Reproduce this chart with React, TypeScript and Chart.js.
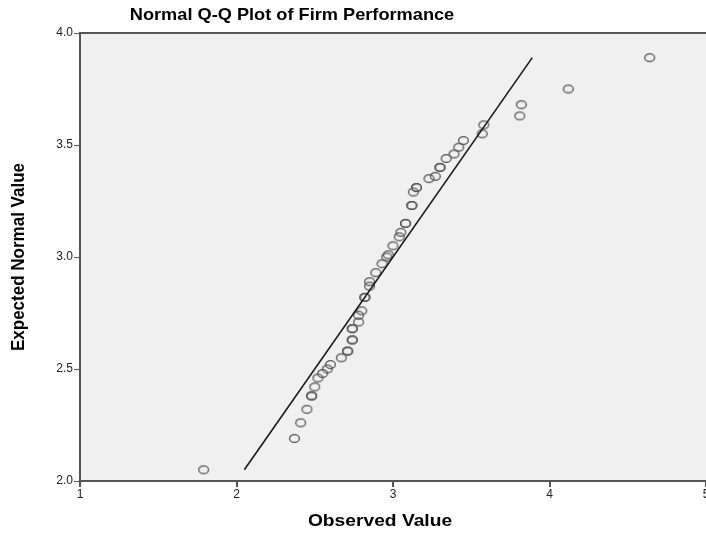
import React, { useEffect, useRef } from "react";
import { Chart, registerables } from "chart.js";

Chart.register(...registerables);

const chartTitle = "Normal Q-Q Plot of Firm Performance";
const xAxisTitle = "Observed Value";
const yAxisTitle = "Expected Normal Value";

const observedValues = [
  1.79, 2.37, 2.41, 2.45, 2.48, 2.48, 2.5, 2.52, 2.55, 2.58, 2.6, 2.67, 2.71, 2.71,
  2.74, 2.74, 2.74, 2.74, 2.78, 2.78, 2.8, 2.82, 2.82, 2.85, 2.85, 2.89, 2.93, 2.96,
  2.97, 3.0, 3.04, 3.05, 3.08, 3.08, 3.12, 3.12, 3.13, 3.15, 3.15, 3.23, 3.27, 3.3,
  3.3, 3.34, 3.39, 3.42, 3.45, 3.57, 3.58, 3.81, 3.82, 4.12, 4.64,
];
const expectedValues = [
  2.05, 2.19, 2.26, 2.32, 2.38, 2.38, 2.42, 2.46, 2.48, 2.5, 2.52, 2.55, 2.58, 2.58,
  2.63, 2.63, 2.68, 2.68, 2.71, 2.74, 2.76, 2.82, 2.82, 2.87, 2.89, 2.93, 2.97, 3.0,
  3.01, 3.05, 3.09, 3.11, 3.15, 3.15, 3.23, 3.23, 3.29, 3.31, 3.31, 3.35, 3.36, 3.4,
  3.4, 3.44, 3.46, 3.49, 3.52, 3.55, 3.59, 3.63, 3.68, 3.75, 3.89,
];
const referenceLine = [2.05, 3.89];
const xTicks = [1, 2, 3, 4, 5];
const yTicks = [2.0, 2.5, 3.0, 3.5, 4.0];

const FONT = "'Liberation Sans', Arial, sans-serif";

function makeMarker(): HTMLCanvasElement {
  const c = document.createElement("canvas");
  c.width = 13;
  c.height = 11;
  const g = c.getContext("2d")!;
  g.strokeStyle = "#555555";
  g.lineWidth = 1.3;
  g.beginPath();
  g.ellipse(6.5, 5.5, 4.9, 3.9, 0, 0, Math.PI * 2);
  g.stroke();
  return c;
}

function stretchedText(ctx: CanvasRenderingContext2D, text: string, x: number, y: number, sx: number) {
  ctx.save();
  ctx.translate(x, y);
  ctx.scale(sx, 1);
  ctx.fillText(text, 0, 0);
  ctx.restore();
}

export default function App() {
  const ref = useRef<HTMLCanvasElement | null>(null);

  useEffect(() => {
    if (!ref.current) return;
    const marker = makeMarker();
    const decor = {
      id: "decor",
      beforeDraw(chart: any) {
        const { ctx, chartArea } = chart;
        ctx.save();
        ctx.fillStyle = "#ffffff";
        ctx.fillRect(0, 0, chart.width, chart.height);
        ctx.fillStyle = "#f0f0f0";
        ctx.fillRect(chartArea.left, chartArea.top, chartArea.right - chartArea.left, chartArea.bottom - chartArea.top);
        ctx.restore();
      },
      afterDraw(chart: any) {
        const { ctx, chartArea } = chart;
        ctx.save();
        ctx.strokeStyle = "#555555";
        ctx.lineWidth = 2;
        ctx.beginPath();
        ctx.moveTo(chartArea.left, chartArea.top);
        ctx.lineTo(chartArea.right, chartArea.top);
        ctx.stroke();
        ctx.fillStyle = "#000000";
        ctx.textAlign = "center";
        ctx.textBaseline = "middle";
        ctx.font = `bold 17px ${FONT}`;
        stretchedText(ctx, chartTitle, 292, 15, 1.07);
        ctx.font = `bold 17px ${FONT}`;
        stretchedText(ctx, xAxisTitle, 380, 521, 1.13);
        ctx.save();
        ctx.translate(19, (chartArea.top + chartArea.bottom) / 2);
        ctx.rotate(-Math.PI / 2);
        ctx.scale(1, 1.1);
        ctx.font = `bold 17px ${FONT}`;
        ctx.fillText(yAxisTitle, 0, 0);
        ctx.restore();
        ctx.restore();
      },
    };

    const chart = new Chart(ref.current, {
      type: "scatter",
      data: {
        datasets: [
          {
            type: "line",
            data: referenceLine.map((v) => ({ x: v, y: v })),
            borderColor: "#1a1a1a",
            borderWidth: 1.6,
            pointRadius: 0,
            fill: false,
          },
          {
            data: observedValues.map((x, i) => ({ x, y: expectedValues[i] })),
            pointStyle: marker,
            pointRadius: 5,
            showLine: false,
          },
        ],
      },
      plugins: [decor],
      options: {
        animation: false,
        responsive: false,
        maintainAspectRatio: false,
        layout: { padding: { top: 33, right: 34, left: 0, bottom: 0 } },
        plugins: { legend: { display: false }, tooltip: { enabled: false } },
        scales: {
          x: {
            type: "linear",
            min: 1,
            max: 5,
            afterFit: (s: any) => {
              s.height = 53;
            },
            afterBuildTicks: (s: any) => {
              s.ticks = xTicks.map((v) => ({ value: v }));
            },
            ticks: {
              color: "#222",
              font: { family: FONT, size: 12 },
              padding: 0,
              maxRotation: 0,
              callback: (v: any) => String(v),
            },
            grid: { display: true, drawOnChartArea: false, drawTicks: true, tickLength: 6, color: "#555", lineWidth: 2 },
            border: { display: true, color: "#555", width: 2 },
          },
          y: {
            type: "linear",
            min: 2,
            max: 4,
            afterFit: (s: any) => {
              s.width = 80;
            },
            afterBuildTicks: (s: any) => {
              s.ticks = yTicks.map((v) => ({ value: v }));
            },
            ticks: {
              color: "#222",
              font: { family: FONT, size: 12 },
              padding: 1,
              callback: (v: any) => Number(v).toFixed(1),
            },
            grid: { display: true, drawOnChartArea: false, drawTicks: true, tickLength: 6, color: "#555", lineWidth: 1 },
            border: { display: true, color: "#555", width: 2 },
          },
        },
      },
    } as any);
    return () => chart.destroy();
  }, []);

  return (
    <div style={{ position: "fixed", left: 0, top: 0, width: 706, height: 534, overflow: "hidden", background: "#fff" }}>
      <canvas ref={ref} width={740} height={534} style={{ display: "block", width: 740, height: 534 }} />
    </div>
  );
}
